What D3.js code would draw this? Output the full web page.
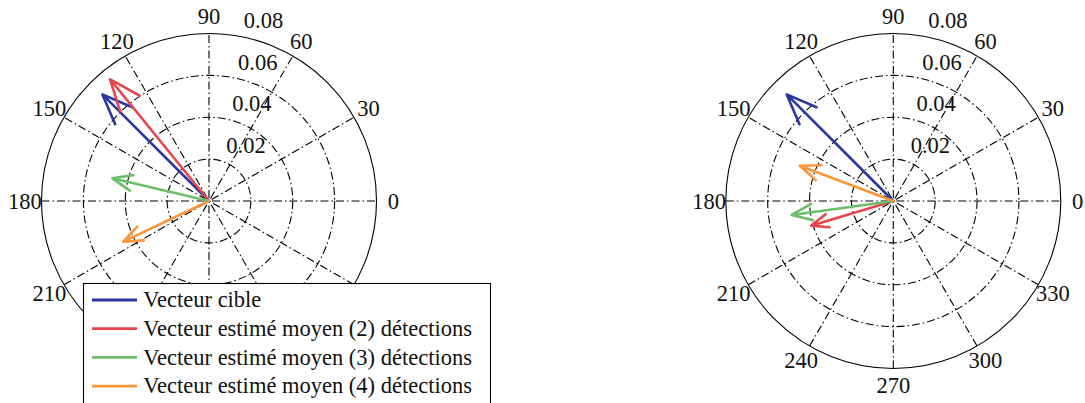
<!DOCTYPE html>
<html>
<head>
<meta charset="utf-8">
<script src="https://cdn.jsdelivr.net/npm/d3@7"></script>
<style>
  html, body { margin: 0; padding: 0; background: #fff; }
  svg { display: block; }
  svg text { fill: #111; }
</style>
</head>
<body>
<svg id="chart" width="1085" height="403"></svg>
<script>
// ---------------- data ----------------
const seriesNames = [
  "Vecteur cible",
  "Vecteur estimé moyen (2) détections",
  "Vecteur estimé moyen (3) détections",
  "Vecteur estimé moyen (4) détections"
];
const angleTicks = [0, 30, 60, 90, 120, 150, 180, 210, 240, 270, 300, 330];
const radialTicks = [0.02, 0.04, 0.06, 0.08];
// left compass: angle (deg) and magnitude for each series
const leftAngles = [135.0, 129.1, 166.8, 205.4];
const leftMagnitudes = [0.0720, 0.0749, 0.0474, 0.0453];
// right compass
const rightAngles = [135.0, 196.7, 187.8, 159.3];
const rightMagnitudes = [0.0720, 0.0410, 0.0490, 0.0477];

// ---------------- styles ----------------
const seriesColors = ["#2b36a0", "#e8444b", "#6cbf68", "#f7963a"];
const FONT = 22.5;
const FAMILY = "Liberation Serif";
const R = 167.5;
const dash = "8,3,1.5,3";
const legendBox = { x: 83.5, y: 283.5, w: 407, h: 140 };

const svg = d3.select("#chart");
svg.append("rect").attr("width", 1085).attr("height", 403).attr("fill", "#fff");

const rScale = d3.scaleLinear().domain([0, d3.max(radialTicks)]).range([0, R]);
const toRad = d => d * Math.PI / 180;

function drawCompass(cx, cy, angles, mags, hideBox) {
  const g = svg.append("g").attr("transform", `translate(${cx},${cy})`);
  const rmax = d3.max(radialTicks);

  radialTicks.forEach((t, i) => {
    g.append("circle").attr("r", rScale(t))
      .attr("fill", "none").attr("stroke", "#000").attr("stroke-width", 1.1)
      .attr("stroke-dasharray", i === radialTicks.length - 1 ? null : dash);
  });

  angleTicks.filter(a => a < 180).forEach(a => {
    const c = Math.cos(toRad(a)), s = Math.sin(toRad(a));
    g.append("line")
      .attr("x1", -rScale(rmax) * c).attr("y1", rScale(rmax) * s)
      .attr("x2", rScale(rmax) * c).attr("y2", -rScale(rmax) * s)
      .attr("stroke", "#000").attr("stroke-width", 1.1)
      .attr("stroke-dasharray", dash);
  });

  angleTicks.forEach(a => {
    const rr = rScale(rmax) * 1.1;
    const x = rr * Math.cos(toRad(a)), y = -rr * Math.sin(toRad(a));
    if (hideBox) {
      const ax = cx + x, ay = cy + y;
      if (ax > hideBox.x && ax < hideBox.x + hideBox.w && ay > hideBox.y) return; // covered by legend
    }
    g.append("text")
      .attr("x", x).attr("y", y)
      .attr("text-anchor", "middle")
      .attr("dominant-baseline", "central")
      .attr("font-family", FAMILY)
      .attr("font-size", FONT)
      .text(a);
  });

  const c82 = Math.cos(toRad(82)), s82 = Math.sin(toRad(82));
  const rinc = radialTicks[1] - radialTicks[0];
  radialTicks.forEach(t => {
    const rr = rScale(t + rinc / 20);
    g.append("text")
      .attr("x", rr * c82 + FONT * 0.5)
      .attr("y", -rr * s82 - FONT * 0.21)
      .attr("font-family", FAMILY)
      .attr("font-size", FONT)
      .text(d3.format(".2f")(t));
  });

  angles.forEach((a, i) => {
    const m = mags[i];
    const zx = rScale(m) * Math.cos(toRad(a));
    const zy = -rScale(m) * Math.sin(toRad(a));
    const izx = zy, izy = -zx;
    const pts = [
      [0, 0],
      [zx, zy],
      [0.8 * zx + 0.08 * izx, 0.8 * zy + 0.08 * izy],
      [zx, zy],
      [0.8 * zx - 0.08 * izx, 0.8 * zy - 0.08 * izy]
    ];
    g.append("path")
      .attr("d", d3.line()(pts))
      .attr("fill", "none")
      .attr("stroke", seriesColors[i])
      .attr("stroke-width", 2.6)
      .attr("stroke-linejoin", "round")
      .attr("stroke-linecap", "round");
  });
  return g;
}

drawCompass(209, 201, leftAngles, leftMagnitudes, legendBox);
drawCompass(893.3, 201, rightAngles, rightMagnitudes, null);

const lg = svg.append("g");
lg.append("rect")
  .attr("x", legendBox.x).attr("y", legendBox.y).attr("width", legendBox.w).attr("height", legendBox.h)
  .attr("fill", "#fff").attr("stroke", "#000").attr("stroke-width", 1.1);
seriesNames.forEach((name, i) => {
  const y = 300 + i * 28.7;
  lg.append("line")
    .attr("x1", 92).attr("x2", 137).attr("y1", y).attr("y2", y)
    .attr("stroke", seriesColors[i]).attr("stroke-width", 2.8);
  lg.append("text")
    .attr("x", 143.3).attr("y", y + 7.3)
    .attr("font-family", FAMILY)
    .attr("font-size", FONT)
    .text(name);
});
</script>
</body>
</html>
